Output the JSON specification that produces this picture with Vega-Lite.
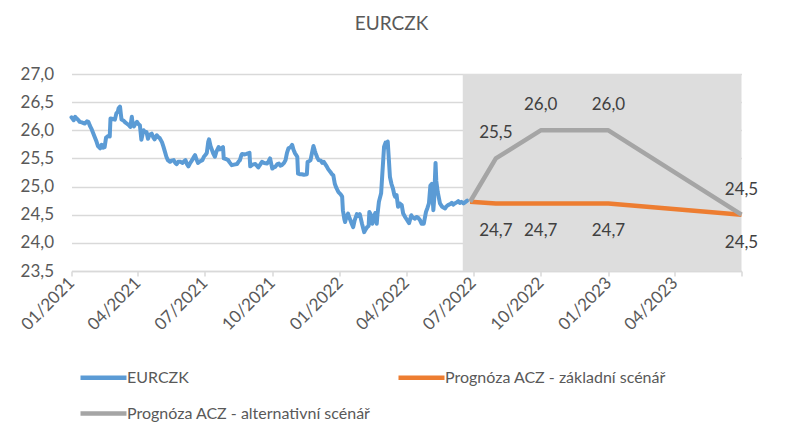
{
  "$schema": "https://vega.github.io/schema/vega-lite/v6.json",
  "autosize": "none",
  "width": 670,
  "height": 197,
  "padding": {"left": 71.5, "top": 74, "right": 44.5, "bottom": 174},
  "background": "white",
  "title": {"text": "EURCZK", "anchor": "middle", "dx": -15, "offset": 16, "baseline": "alphabetic", "font": "Lato", "fontSize": 19, "fontWeight": "normal", "color": "#595959"},
  "config": {
    "locale": {"number": {"decimal": ",", "thousands": " ", "grouping": [3], "currency": ["", " Kč"]}},
    "view": {"stroke": null},
    "font": "Lato"
  },
  "datasets": {
    "shade": [{"start": "2022-06-17", "end": "2023-07-01"}],
    "hist": [
      {"date": "2021-01-01", "value": 26.23}, {"date": "2021-01-04", "value": 26.18}, {"date": "2021-01-06", "value": 26.24}, {"date": "2021-01-08", "value": 26.21},
      {"date": "2021-01-11", "value": 26.17}, {"date": "2021-01-12", "value": 26.15}, {"date": "2021-01-15", "value": 26.14}, {"date": "2021-01-19", "value": 26.12},
      {"date": "2021-01-22", "value": 26.16}, {"date": "2021-01-24", "value": 26.15}, {"date": "2021-01-26", "value": 26.08}, {"date": "2021-01-28", "value": 26.03},
      {"date": "2021-02-01", "value": 25.9}, {"date": "2021-02-04", "value": 25.8}, {"date": "2021-02-06", "value": 25.72}, {"date": "2021-02-09", "value": 25.68},
      {"date": "2021-02-11", "value": 25.74}, {"date": "2021-02-13", "value": 25.69}, {"date": "2021-02-15", "value": 25.7}, {"date": "2021-02-17", "value": 25.87},
      {"date": "2021-02-18", "value": 25.88}, {"date": "2021-02-20", "value": 25.9}, {"date": "2021-02-22", "value": 25.89}, {"date": "2021-02-23", "value": 26.21},
      {"date": "2021-02-26", "value": 26.2}, {"date": "2021-03-01", "value": 26.19}, {"date": "2021-03-03", "value": 26.3}, {"date": "2021-03-05", "value": 26.33},
      {"date": "2021-03-06", "value": 26.39}, {"date": "2021-03-08", "value": 26.42}, {"date": "2021-03-09", "value": 26.3}, {"date": "2021-03-10", "value": 26.19},
      {"date": "2021-03-13", "value": 26.17}, {"date": "2021-03-15", "value": 26.14}, {"date": "2021-03-17", "value": 26.12}, {"date": "2021-03-20", "value": 26.09},
      {"date": "2021-03-22", "value": 26.06}, {"date": "2021-03-24", "value": 26.24}, {"date": "2021-03-25", "value": 26.13}, {"date": "2021-03-27", "value": 26.07},
      {"date": "2021-03-29", "value": 26.12}, {"date": "2021-03-31", "value": 26.15}, {"date": "2021-04-02", "value": 26.11}, {"date": "2021-04-04", "value": 26.09},
      {"date": "2021-04-06", "value": 25.83}, {"date": "2021-04-08", "value": 25.95}, {"date": "2021-04-09", "value": 26.0}, {"date": "2021-04-11", "value": 25.97},
      {"date": "2021-04-13", "value": 25.97}, {"date": "2021-04-15", "value": 25.85}, {"date": "2021-04-17", "value": 25.92}, {"date": "2021-04-20", "value": 25.94},
      {"date": "2021-04-22", "value": 25.88}, {"date": "2021-04-24", "value": 25.84}, {"date": "2021-04-27", "value": 25.91}, {"date": "2021-04-29", "value": 25.88},
      {"date": "2021-05-01", "value": 25.86}, {"date": "2021-05-04", "value": 25.79}, {"date": "2021-05-06", "value": 25.71}, {"date": "2021-05-08", "value": 25.62},
      {"date": "2021-05-10", "value": 25.53}, {"date": "2021-05-12", "value": 25.47}, {"date": "2021-05-15", "value": 25.44}, {"date": "2021-05-17", "value": 25.46},
      {"date": "2021-05-20", "value": 25.47}, {"date": "2021-05-22", "value": 25.42}, {"date": "2021-05-24", "value": 25.4}, {"date": "2021-05-26", "value": 25.44},
      {"date": "2021-05-29", "value": 25.44}, {"date": "2021-06-01", "value": 25.42}, {"date": "2021-06-03", "value": 25.45}, {"date": "2021-06-05", "value": 25.47},
      {"date": "2021-06-07", "value": 25.4}, {"date": "2021-06-09", "value": 25.36}, {"date": "2021-06-11", "value": 25.41}, {"date": "2021-06-14", "value": 25.47},
      {"date": "2021-06-16", "value": 25.52}, {"date": "2021-06-18", "value": 25.56}, {"date": "2021-06-20", "value": 25.48}, {"date": "2021-06-22", "value": 25.42},
      {"date": "2021-06-25", "value": 25.45}, {"date": "2021-06-28", "value": 25.47}, {"date": "2021-06-30", "value": 25.53}, {"date": "2021-07-02", "value": 25.56},
      {"date": "2021-07-04", "value": 25.6}, {"date": "2021-07-06", "value": 25.8}, {"date": "2021-07-07", "value": 25.84}, {"date": "2021-07-09", "value": 25.72},
      {"date": "2021-07-11", "value": 25.65}, {"date": "2021-07-13", "value": 25.58}, {"date": "2021-07-15", "value": 25.53}, {"date": "2021-07-17", "value": 25.62},
      {"date": "2021-07-20", "value": 25.7}, {"date": "2021-07-22", "value": 25.66}, {"date": "2021-07-24", "value": 25.68}, {"date": "2021-07-26", "value": 25.7},
      {"date": "2021-07-27", "value": 25.5}, {"date": "2021-07-30", "value": 25.49}, {"date": "2021-08-02", "value": 25.47}, {"date": "2021-08-04", "value": 25.43},
      {"date": "2021-08-07", "value": 25.38}, {"date": "2021-08-10", "value": 25.39}, {"date": "2021-08-14", "value": 25.4}, {"date": "2021-08-16", "value": 25.44},
      {"date": "2021-08-18", "value": 25.47}, {"date": "2021-08-20", "value": 25.56}, {"date": "2021-08-21", "value": 25.58}, {"date": "2021-08-24", "value": 25.57},
      {"date": "2021-08-27", "value": 25.58}, {"date": "2021-08-31", "value": 25.6}, {"date": "2021-09-01", "value": 25.36}, {"date": "2021-09-04", "value": 25.39},
      {"date": "2021-09-08", "value": 25.4}, {"date": "2021-09-10", "value": 25.37}, {"date": "2021-09-12", "value": 25.34}, {"date": "2021-09-15", "value": 25.4},
      {"date": "2021-09-17", "value": 25.44}, {"date": "2021-09-20", "value": 25.42}, {"date": "2021-09-24", "value": 25.41}, {"date": "2021-09-26", "value": 25.45},
      {"date": "2021-09-28", "value": 25.5}, {"date": "2021-10-01", "value": 25.32}, {"date": "2021-10-03", "value": 25.34}, {"date": "2021-10-05", "value": 25.35},
      {"date": "2021-10-08", "value": 25.4}, {"date": "2021-10-10", "value": 25.41}, {"date": "2021-10-12", "value": 25.37}, {"date": "2021-10-14", "value": 25.38},
      {"date": "2021-10-17", "value": 25.42}, {"date": "2021-10-19", "value": 25.47}, {"date": "2021-10-21", "value": 25.6}, {"date": "2021-10-23", "value": 25.68},
      {"date": "2021-10-26", "value": 25.7}, {"date": "2021-10-28", "value": 25.74}, {"date": "2021-10-30", "value": 25.65}, {"date": "2021-11-01", "value": 25.59},
      {"date": "2021-11-04", "value": 25.53}, {"date": "2021-11-05", "value": 25.23}, {"date": "2021-11-08", "value": 25.22}, {"date": "2021-11-10", "value": 25.22},
      {"date": "2021-11-13", "value": 25.21}, {"date": "2021-11-17", "value": 25.22}, {"date": "2021-11-18", "value": 25.44}, {"date": "2021-11-20", "value": 25.45},
      {"date": "2021-11-22", "value": 25.47}, {"date": "2021-11-24", "value": 25.6}, {"date": "2021-11-26", "value": 25.72}, {"date": "2021-11-28", "value": 25.63},
      {"date": "2021-11-29", "value": 25.59}, {"date": "2021-12-01", "value": 25.52}, {"date": "2021-12-03", "value": 25.47}, {"date": "2021-12-06", "value": 25.46},
      {"date": "2021-12-08", "value": 25.42}, {"date": "2021-12-10", "value": 25.44}, {"date": "2021-12-12", "value": 25.4}, {"date": "2021-12-14", "value": 25.36},
      {"date": "2021-12-16", "value": 25.31}, {"date": "2021-12-19", "value": 25.26}, {"date": "2021-12-21", "value": 25.22}, {"date": "2021-12-23", "value": 25.2},
      {"date": "2021-12-25", "value": 25.05}, {"date": "2021-12-27", "value": 24.98}, {"date": "2021-12-30", "value": 24.9}, {"date": "2022-01-02", "value": 24.86},
      {"date": "2022-01-04", "value": 24.82}, {"date": "2022-01-05", "value": 24.58}, {"date": "2022-01-07", "value": 24.42}, {"date": "2022-01-08", "value": 24.37},
      {"date": "2022-01-10", "value": 24.47}, {"date": "2022-01-12", "value": 24.52}, {"date": "2022-01-14", "value": 24.44}, {"date": "2022-01-15", "value": 24.41},
      {"date": "2022-01-17", "value": 24.34}, {"date": "2022-01-19", "value": 24.28}, {"date": "2022-01-21", "value": 24.4}, {"date": "2022-01-24", "value": 24.51},
      {"date": "2022-01-26", "value": 24.48}, {"date": "2022-01-28", "value": 24.51}, {"date": "2022-01-31", "value": 24.34}, {"date": "2022-02-03", "value": 24.19},
      {"date": "2022-02-05", "value": 24.24}, {"date": "2022-02-07", "value": 24.28}, {"date": "2022-02-09", "value": 24.3}, {"date": "2022-02-10", "value": 24.55},
      {"date": "2022-02-12", "value": 24.5}, {"date": "2022-02-14", "value": 24.34}, {"date": "2022-02-16", "value": 24.45}, {"date": "2022-02-18", "value": 24.53},
      {"date": "2022-02-20", "value": 24.34}, {"date": "2022-02-21", "value": 24.5}, {"date": "2022-02-23", "value": 24.73}, {"date": "2022-02-26", "value": 24.88},
      {"date": "2022-02-28", "value": 25.3}, {"date": "2022-03-02", "value": 25.71}, {"date": "2022-03-04", "value": 25.78}, {"date": "2022-03-05", "value": 25.7},
      {"date": "2022-03-07", "value": 25.8}, {"date": "2022-03-10", "value": 25.17}, {"date": "2022-03-12", "value": 25.05}, {"date": "2022-03-14", "value": 24.97},
      {"date": "2022-03-16", "value": 24.85}, {"date": "2022-03-17", "value": 24.82}, {"date": "2022-03-19", "value": 24.85}, {"date": "2022-03-21", "value": 24.64},
      {"date": "2022-03-23", "value": 24.7}, {"date": "2022-03-26", "value": 24.67}, {"date": "2022-03-28", "value": 24.52}, {"date": "2022-03-31", "value": 24.45},
      {"date": "2022-04-02", "value": 24.41}, {"date": "2022-04-05", "value": 24.35}, {"date": "2022-04-08", "value": 24.49}, {"date": "2022-04-10", "value": 24.45},
      {"date": "2022-04-13", "value": 24.43}, {"date": "2022-04-15", "value": 24.46}, {"date": "2022-04-17", "value": 24.45}, {"date": "2022-04-20", "value": 24.4},
      {"date": "2022-04-22", "value": 24.34}, {"date": "2022-04-25", "value": 24.34}, {"date": "2022-04-28", "value": 24.55}, {"date": "2022-04-30", "value": 24.62},
      {"date": "2022-05-02", "value": 24.7}, {"date": "2022-05-04", "value": 25.02}, {"date": "2022-05-06", "value": 25.05}, {"date": "2022-05-08", "value": 24.58},
      {"date": "2022-05-09", "value": 24.75}, {"date": "2022-05-11", "value": 25.42}, {"date": "2022-05-12", "value": 25.1}, {"date": "2022-05-14", "value": 24.9},
      {"date": "2022-05-17", "value": 24.7}, {"date": "2022-05-20", "value": 24.64}, {"date": "2022-05-24", "value": 24.61}, {"date": "2022-05-26", "value": 24.65},
      {"date": "2022-05-28", "value": 24.67}, {"date": "2022-05-31", "value": 24.69}, {"date": "2022-06-02", "value": 24.71}, {"date": "2022-06-04", "value": 24.68},
      {"date": "2022-06-06", "value": 24.7}, {"date": "2022-06-09", "value": 24.72}, {"date": "2022-06-11", "value": 24.74}, {"date": "2022-06-13", "value": 24.71},
      {"date": "2022-06-15", "value": 24.73}, {"date": "2022-06-18", "value": 24.7}, {"date": "2022-06-20", "value": 24.72}, {"date": "2022-06-23", "value": 24.75}
    ],
    "fc": [
      {"date": "2022-06-27", "series": "Prognóza ACZ - základní scénář", "value": 24.73},
      {"date": "2022-08-01", "series": "Prognóza ACZ - základní scénář", "value": 24.7},
      {"date": "2022-10-01", "series": "Prognóza ACZ - základní scénář", "value": 24.7},
      {"date": "2023-01-01", "series": "Prognóza ACZ - základní scénář", "value": 24.7},
      {"date": "2023-07-01", "series": "Prognóza ACZ - základní scénář", "value": 24.5},
      {"date": "2022-06-27", "series": "Prognóza ACZ - alternativní scénář", "value": 24.73},
      {"date": "2022-08-01", "series": "Prognóza ACZ - alternativní scénář", "value": 25.5},
      {"date": "2022-10-01", "series": "Prognóza ACZ - alternativní scénář", "value": 26.0},
      {"date": "2023-01-01", "series": "Prognóza ACZ - alternativní scénář", "value": 26.0},
      {"date": "2023-07-01", "series": "Prognóza ACZ - alternativní scénář", "value": 24.5}
    ]
  },
  "layer": [
    {
      "data": {"name": "shade"},
      "mark": {"type": "rect", "color": "#DDDDDD"},
      "encoding": {
        "x": {"field": "start", "type": "temporal", "scale": {"domain": [{"year": 2021, "month": 1, "date": 1}, {"year": 2023, "month": 7, "date": 1}]},
          "axis": {
            "values": [{"year": 2021, "month": 1, "date": 1}, {"year": 2021, "month": 4, "date": 1}, {"year": 2021, "month": 7, "date": 1}, {"year": 2021, "month": 10, "date": 1},
              {"year": 2022, "month": 1, "date": 1}, {"year": 2022, "month": 4, "date": 1}, {"year": 2022, "month": 7, "date": 1}, {"year": 2022, "month": 10, "date": 1},
              {"year": 2023, "month": 1, "date": 1}, {"year": 2023, "month": 4, "date": 1}, {"year": 2023, "month": 7, "date": 1}],
            "tickCount": 20,
            "labelExpr": "month(datum.value) == 6 && year(datum.value) == 2023 ? '' : timeFormat(datum.value, '%m/%Y')",
            "title": null, "grid": false, "domainColor": "#D9D9D9", "domainWidth": 1.5,
            "tickColor": "#D9D9D9", "tickWidth": 1.5, "tickSize": 5,
            "labelAngle": -45, "labelAlign": "right", "labelBaseline": "middle", "labelPadding": 4,
            "labelFont": "Lato", "labelFontSize": 17, "labelColor": "#595959", "labelOverlap": false, "labelBound": false, "labelFlush": false
          }},
        "x2": {"field": "end"},
        "y": {"datum": 27, "type": "quantitative", "scale": {"domain": [23.5, 27], "nice": false, "zero": false},
          "axis": {
            "values": [23.5, 24, 24.5, 25, 25.5, 26, 26.5, 27], "tickCount": 10, "format": ".1f", "title": null,
            "domain": false, "ticks": false, "grid": true, "gridColor": "#D9D9D9", "gridWidth": 1.5,
            "labelOverlap": false, "labelBound": false, "labelFlush": false,
            "labelFont": "Lato", "labelFontSize": 17, "labelColor": "#595959", "labelPadding": 18
          }},
        "y2": {"datum": 23.5}
      }
    },
    {
      "data": {"name": "hist"},
      "transform": [{"calculate": "'EURCZK'", "as": "series"}],
      "mark": {"type": "line", "strokeWidth": 4, "strokeJoin": "round", "strokeCap": "round"},
      "encoding": {
        "x": {"field": "date", "type": "temporal"},
        "y": {"field": "value", "type": "quantitative"},
        "color": {"field": "series", "type": "nominal",
          "scale": {"domain": ["EURCZK", "Prognóza ACZ - základní scénář", "Prognóza ACZ - alternativní scénář"], "range": ["#5B9BD5", "#ED7D31", "#A5A5A5"]},
          "legend": {
            "orient": "none", "legendX": 6.5, "legendY": 278, "direction": "horizontal", "columns": 2, "title": null,
            "symbolType": "stroke", "symbolSize": 2116, "symbolStrokeWidth": 4.5, "labelOffset": -2,
            "labelFont": "Lato", "labelFontSize": 16, "labelColor": "#595959", "labelLimit": 400,
            "rowPadding": 1, "columnPadding": 18, "padding": 0
          }}
      }
    },
    {
      "data": {"name": "fc"},
      "mark": {"type": "line", "strokeWidth": 4.5, "strokeJoin": "round"},
      "encoding": {
        "x": {"field": "date", "type": "temporal"},
        "y": {"field": "value", "type": "quantitative"},
        "color": {"field": "series", "type": "nominal"},
        "order": {"field": "date"}
      }
    },
    {
      "data": {"name": "fc"},
      "transform": [{"filter": "datum.series == 'Prognóza ACZ - alternativní scénář' && time(datum.date) > time(datetime(2022, 6, 1))"}],
      "mark": {"type": "text", "dy": -20, "baseline": "alphabetic", "font": "Lato", "fontSize": 17, "color": "#404040"},
      "encoding": {
        "x": {"field": "date", "type": "temporal"},
        "y": {"field": "value", "type": "quantitative"},
        "text": {"field": "value", "type": "quantitative", "format": ".1f"}
      }
    },
    {
      "data": {"name": "fc"},
      "transform": [{"filter": "datum.series == 'Prognóza ACZ - základní scénář' && time(datum.date) > time(datetime(2022, 6, 1))"}],
      "mark": {"type": "text", "dy": 33, "baseline": "alphabetic", "font": "Lato", "fontSize": 17, "color": "#404040"},
      "encoding": {
        "x": {"field": "date", "type": "temporal"},
        "y": {"field": "value", "type": "quantitative"},
        "text": {"field": "value", "type": "quantitative", "format": ".1f"}
      }
    }
  ]
}
